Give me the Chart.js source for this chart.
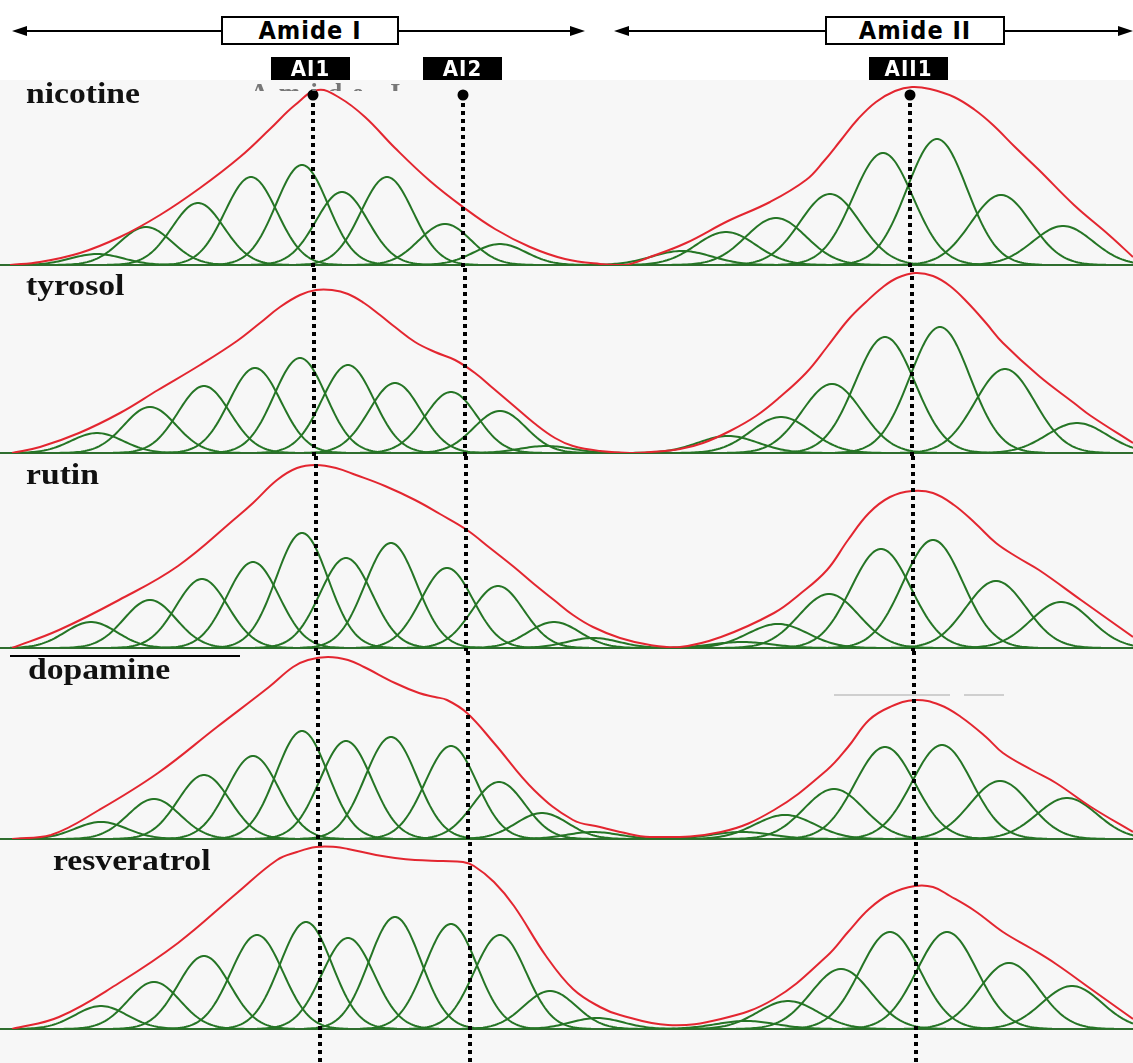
<!DOCTYPE html>
<html>
<head>
<meta charset="utf-8">
<script src="https://cdn.jsdelivr.net/npm/chart.js@4.4.1/dist/chart.umd.min.js"></script>
<style>
  body { margin: 0; background: #fff; width: 1133px; height: 1063px; position: relative; overflow: hidden; }
  .panel { position: absolute; left: 0; width: 1133px; background: #f7f7f7; }
  .panel canvas { display: block; }
  .lbl { position: absolute; z-index: 5; font: bold 29px "Liberation Serif", "Times New Roman", serif; line-height: 29px; color: #111;
         white-space: nowrap; transform: scaleX(1.16); transform-origin: left top; }
  .box { position: absolute; z-index: 5; box-sizing: border-box; height: 29px; top: 16px; border: 2px solid #000; background: #fff;
         display: flex; align-items: center; justify-content: center; letter-spacing: 1px;
         font-family: "DejaVu Sans Condensed", "DejaVu Sans", sans-serif; font-stretch: condensed; font-weight: bold; font-size: 25px; color: #000; }
  .tag { position: absolute; z-index: 5; top: 57px; height: 23px; width: 79px; background: #000; color: #fff;
         display: flex; align-items: center; justify-content: center; letter-spacing: 1px;
         font-family: "DejaVu Sans Condensed", "DejaVu Sans", sans-serif; font-stretch: condensed; font-weight: bold; font-size: 22px; }
  .ghost { position: absolute; z-index: 4; left: 250px; top: 80px; height: 11px; overflow: hidden; }
  .ghost span { display: block; font: bold 26px "Liberation Serif", serif; line-height: 26px; letter-spacing: 10px; color: #777; }
</style>
</head>
<body>

<svg width="1133" height="80" style="position:absolute;left:0;top:0">
  <line x1="24" y1="31" x2="574" y2="31" stroke="#000" stroke-width="2"/>
  <polygon points="12,31 27,26 27,36" fill="#000"/>
  <polygon points="585,31 570,26 570,36" fill="#000"/>
  <line x1="626" y1="31" x2="1122" y2="31" stroke="#000" stroke-width="2"/>
  <polygon points="614,31 629,26 629,36" fill="#000"/>
  <polygon points="1133,31 1118,26 1118,36" fill="#000"/>
</svg>
<div class="box" style="left:221px;width:178px">Amide I</div>
<div class="box" style="left:825px;width:180px">Amide II</div>
<div class="tag" style="left:271px">AI1</div>
<div class="tag" style="left:423px">AI2</div>
<div class="tag" style="left:869px">AII1</div>
<div class="ghost"><span>Amide I</span></div>

<div class="panel" style="top:80px;height:188px"><canvas id="c0" width="1133" height="188"></canvas></div>
<div class="panel" style="top:268px;height:188px"><canvas id="c1" width="1133" height="188"></canvas></div>
<div class="panel" style="top:456px;height:195px"><canvas id="c2" width="1133" height="195"></canvas></div>
<div class="panel" style="top:651px;height:191px"><canvas id="c3" width="1133" height="191"></canvas></div>
<div class="panel" style="top:842px;height:221px"><canvas id="c4" width="1133" height="221"></canvas></div>

<div class="lbl" style="left:26px;top:79px">nicotine</div>
<div class="lbl" style="left:26px;top:271px">tyrosol</div>
<div class="lbl" style="left:26px;top:460px">rutin</div>
<div class="lbl" style="left:28px;top:655px">dopamine</div>
<div class="lbl" style="left:53px;top:846px">resveratrol</div>

<div style="position:absolute;z-index:5;left:10px;top:655px;width:230px;height:2px;background:#000"></div>
<div style="position:absolute;z-index:5;left:834px;top:694px;width:116px;height:2px;background:#cfcfcf"></div>
<div style="position:absolute;z-index:5;left:964px;top:694px;width:40px;height:2px;background:#cfcfcf"></div>

<script>
// fitted envelope (red) per sample: position / intensity
var nicotineEnvX = [10, 40, 80, 120, 160, 200, 240, 270, 295, 318, 340, 365, 395, 430, 463, 495, 530, 565, 600, 625, 650, 686, 728, 770, 806, 824, 841, 858, 876, 895, 912, 930, 954, 975, 993, 1015, 1039, 1074, 1109, 1133];
var nicotineEnvY = [0, 3, 12, 28, 50, 77, 108, 136, 160, 175, 167, 148, 117, 84, 58, 36, 18, 6, 1, 0, 8, 22, 44, 63, 85, 104, 125, 146, 163, 174, 178, 176, 168, 155, 140, 118, 95, 60, 30, 8];
var tyrosolEnvX = [12, 40, 79, 120, 158, 200, 237, 260, 280, 300, 316, 332, 348, 364, 380, 395, 415, 435, 455, 475, 494, 514, 534, 555, 573, 600, 630, 651, 680, 703, 730, 756, 780, 806, 827, 848, 866, 883, 897, 915, 933, 950, 968, 986, 1003, 1039, 1074, 1091, 1133];
var tyrosolEnvY = [0, 6, 20, 40, 63, 88, 112, 130, 146, 158, 163, 163, 159, 150, 138, 126, 111, 101, 93, 80, 64, 47, 30, 15, 7, 2, 0, 1, 4, 10, 22, 37, 56, 80, 106, 133, 151, 166, 175, 180, 177, 167, 150, 130, 110, 77, 50, 37, 10];
var rutinEnvX = [12, 59, 119, 178, 237, 253, 277, 297, 316, 336, 356, 385, 415, 440, 467, 490, 514, 534, 554, 573, 593, 620, 650, 680, 721, 774, 800, 827, 848, 869, 890, 912, 933, 954, 975, 996, 1017, 1039, 1081, 1133];
var rutinEnvY = [0, 18, 48, 82, 131, 145, 168, 180, 183, 180, 173, 162, 148, 134, 118, 100, 81, 64, 48, 33, 21, 10, 3, 1, 11, 35, 54, 78, 108, 135, 151, 157, 155, 143, 125, 105, 91, 78, 48, 11];
var dopamineEnvX = [12, 51, 99, 158, 217, 269, 293, 308, 328, 348, 364, 395, 419, 435, 447, 467, 494, 534, 573, 600, 620, 650, 721, 774, 827, 848, 869, 890, 915, 940, 961, 986, 1003, 1032, 1056, 1091, 1133];
var dopamineEnvY = [0, 4, 29, 66, 112, 152, 172, 179, 182, 179, 172, 156, 146, 142, 139, 126, 96, 49, 19, 12, 7, 2, 7, 29, 69, 92, 119, 132, 139, 134, 122, 102, 86, 69, 56, 32, 7];
var resveratrolEnvX = [12, 59, 119, 178, 237, 277, 297, 316, 336, 348, 376, 395, 415, 443, 463, 474, 494, 514, 546, 573, 600, 620, 668, 721, 774, 827, 848, 869, 890, 915, 933, 950, 975, 1003, 1032, 1056, 1091, 1133];
var resveratrolEnvY = [0, 12, 46, 86, 136, 169, 177, 182, 182, 180, 174, 171, 169, 168, 167, 163, 147, 123, 73, 40, 22, 14, 4, 10, 30, 73, 97, 120, 135, 143, 142, 133, 118, 97, 80, 65, 40, 10];

// component bands (green): centre / peak height
var nicotineBandC = [97, 146, 198, 251, 302, 342, 387, 445, 500, 682, 726, 776, 830, 883, 937, 1001, 1063];
var nicotineBandH = [11, 38, 62, 88, 100, 73, 88, 41, 21, 14, 33, 47, 71, 112, 126, 70, 39];
var tyrosolBandC = [97, 150, 204, 255, 300, 348, 395, 451, 500, 546, 728, 781, 832, 885, 940, 1005, 1077];
var tyrosolBandH = [20, 46, 67, 85, 95, 88, 70, 61, 42, 7, 17, 36, 69, 116, 126, 84, 30];
var rutinBandC = [91, 150, 202, 253, 302, 346, 391, 447, 498, 554, 593, 742, 778, 829, 881, 933, 996, 1061];
var rutinBandH = [26, 48, 69, 86, 115, 90, 105, 80, 62, 26, 10, 6, 24, 54, 99, 108, 67, 46];
var dopamineBandC = [101, 154, 204, 253, 302, 346, 391, 451, 499, 542, 593, 742, 785, 834, 885, 942, 1000, 1067];
var dopamineBandH = [17, 40, 64, 83, 108, 98, 102, 93, 57, 26, 7, 7, 24, 50, 92, 94, 58, 41];
var resveratrolBandC = [101, 154, 204, 257, 306, 348, 395, 451, 500, 550, 597, 746, 788, 841, 890, 947, 1009, 1072];
var resveratrolBandH = [23, 47, 73, 94, 107, 91, 112, 105, 94, 38, 11, 8, 28, 60, 97, 97, 66, 43];

// band widths (sigma)
var amideIWidth = 26;
var amideIIWidth = 30;
var regionSplit = 615;

// marker positions (AI1, AI2, AII1) in each panel
var ai1X = [313, 314, 316, 318, 320];
var ai2X = [463, 465, 466, 468, 470];
var aii1X = [910, 912, 913, 914, 916];
var markerDotLevel = 170;

// panel layout: canvas id, height of baseline from canvas top
var panelIds = ['c0', 'c1', 'c2', 'c3', 'c4'];
var baselineOffset = [185, 185, 192, 188, 187];

var envX = [nicotineEnvX, tyrosolEnvX, rutinEnvX, dopamineEnvX, resveratrolEnvX];
var envY = [nicotineEnvY, tyrosolEnvY, rutinEnvY, dopamineEnvY, resveratrolEnvY];
var bandC = [nicotineBandC, tyrosolBandC, rutinBandC, dopamineBandC, resveratrolBandC];
var bandH = [nicotineBandH, tyrosolBandH, rutinBandH, dopamineBandH, resveratrolBandH];

function bandPoints(c, h, w) {
	var pts = [];
	for (var x = c - 3.5 * w; x <= c + 3.5 * w; x += 2) {
		pts.push({ x: x, y: h * Math.exp(-(x - c) * (x - c) / (2 * w * w)) });
	}
	return pts;
}

var markerPlugin = {
	id: 'markers',
	beforeDatasetsDraw: function(chart) {
		var ctx = chart.ctx;
		var y0 = Math.round(chart.scales.y.getPixelForValue(0));
		ctx.save();
		ctx.strokeStyle = '#2f6e2f';
		ctx.lineWidth = 2;
		ctx.beginPath();
		ctx.moveTo(0, y0);
		ctx.lineTo(chart.width, y0);
		ctx.stroke();
		ctx.restore();
	},
	afterDatasetsDraw: function(chart, args, opts) {
		var ctx = chart.ctx, xs = chart.scales.x, ys = chart.scales.y;
		var top = opts.dots ? ys.getPixelForValue(markerDotLevel) : 0;
		ctx.save();
		ctx.strokeStyle = '#000';
		ctx.lineWidth = 4;
		ctx.setLineDash([4, 4]);
		opts.lines.forEach(function(v) {
			var px = Math.round(xs.getPixelForValue(v));
			ctx.beginPath();
			ctx.moveTo(px, top);
			ctx.lineTo(px, chart.height);
			ctx.stroke();
		});
		ctx.setLineDash([]);
		if (opts.dots) {
			ctx.fillStyle = '#000';
			opts.lines.forEach(function(v) {
				ctx.beginPath();
				ctx.arc(xs.getPixelForValue(v), top, 5.5, 0, Math.PI * 2);
				ctx.fill();
			});
		}
		ctx.restore();
	}
};

panelIds.forEach(function(id, i) {
	var canvas = document.getElementById(id);
	var datasets = [];

	datasets.push({
		data: envX[i].map(function(x, k) { return { x: x, y: envY[i][k] }; }),
		borderColor: '#e32630',
		borderWidth: 2,
		tension: 0.4,
		pointRadius: 0,
		fill: false
	});

	bandC[i].forEach(function(c, k) {
		var w = c < regionSplit ? amideIWidth : amideIIWidth;
		datasets.push({
			data: bandPoints(c, bandH[i][k], w),
			borderColor: '#257525',
			borderWidth: 2,
			pointRadius: 0,
			tension: 0,
			fill: false
		});
	});

	new Chart(canvas, {
		type: 'line',
		data: { datasets: datasets },
		options: {
			responsive: false,
			animation: false,
			layout: { padding: { left: 10, right: 0, top: 0, bottom: canvas.height - baselineOffset[i] } },
			scales: {
				x: { type: 'linear', min: 10, max: 1133, display: false },
				y: { type: 'linear', min: 0, max: baselineOffset[i], display: false }
			},
			plugins: {
				legend: { display: false },
				tooltip: { enabled: false },
				markers: { lines: [ai1X[i], ai2X[i], aii1X[i]], dots: i === 0 }
			}
		},
		plugins: [markerPlugin]
	});
});
</script>
</body>
</html>
